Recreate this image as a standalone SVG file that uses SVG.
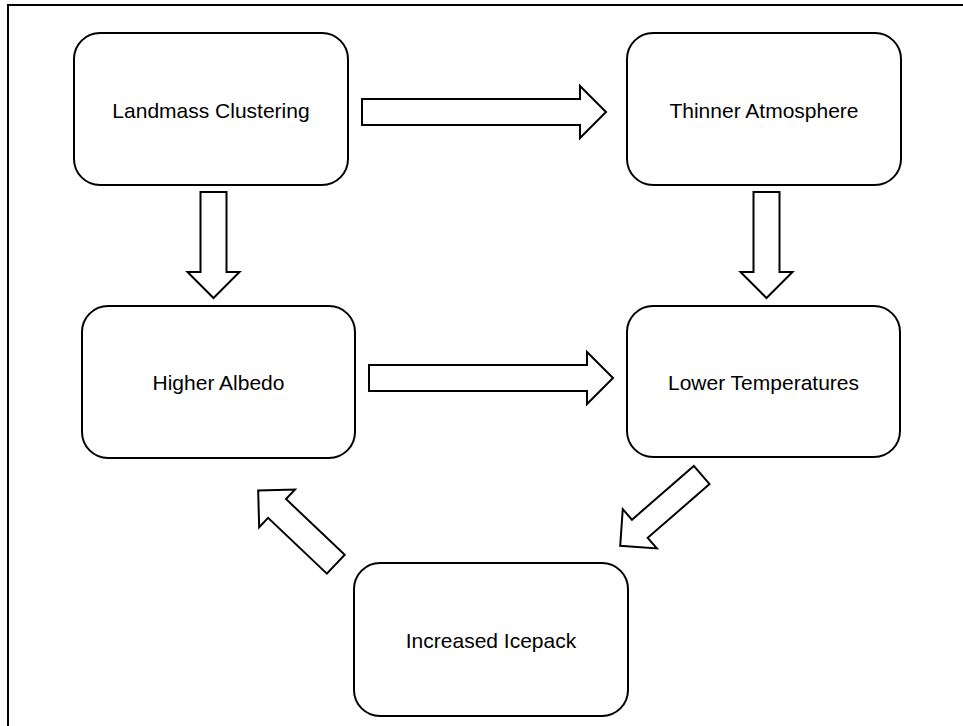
<svg xmlns="http://www.w3.org/2000/svg" width="963" height="726" viewBox="0 0 963 726">
  <style>
    .box { fill: #ffffff; stroke: #000000; stroke-width: 2; }
    .lbl { font-family: "Liberation Sans", Arial, sans-serif; font-size: 21px; fill: #000000; text-anchor: middle; }
    .arr { fill: #ffffff; stroke: #000000; stroke-width: 2; stroke-linejoin: miter; }
    .frame { fill: none; stroke: #000000; stroke-width: 2; }
  </style>
  <defs>
    <polygon id="arrowShape" points="0,-13 -26,-13 -26,-26 0,0 -26,26 -26,13 0,13"/>
  </defs>
  <rect x="0" y="0" width="963" height="726" fill="#ffffff"/>
  <rect class="frame" x="8" y="5" width="1000" height="800"/>

  <g id="connectors">
    <polygon class="arr" points="362,99 580,99 580,86 606,112 580,138 580,125 362,125"/>
    <polygon class="arr" points="369,365 587,365 587,352 613,378 587,404 587,391 369,391"/>
    <polygon class="arr" points="200.5,192 226.5,192 226.5,272 239.5,272 213.5,298 187.5,272 200.5,272"/>
    <polygon class="arr" points="753.5,192 779.5,192 779.5,272 792.5,272 766.5,298 740.5,272 753.5,272"/>
    <g transform="translate(701.7,475) rotate(139)">
      <polygon class="arr" points="0,-12 82,-12 82,-26 108,0 82,26 82,12 0,12"/>
    </g>
    <g transform="translate(335.8,564.2) rotate(-136.5)">
      <polygon class="arr" points="0,-13 81,-13 81,-26 107,0 81,26 81,13 0,13"/>
    </g>
  </g>

  <g id="node-landmass">
    <rect class="box" x="74" y="33" width="274" height="152" rx="26" ry="26"/>
    <text class="lbl" x="211" y="118">Landmass Clustering</text>
  </g>
  <g id="node-thinner">
    <rect class="box" x="627" y="33" width="274" height="152" rx="26" ry="26"/>
    <text class="lbl" x="764" y="118">Thinner Atmosphere</text>
  </g>
  <g id="node-albedo">
    <rect class="box" x="82" y="306" width="273" height="152" rx="26" ry="26"/>
    <text class="lbl" x="218.5" y="390">Higher Albedo</text>
  </g>
  <g id="node-lowertemp">
    <rect class="box" x="627" y="306" width="273" height="151" rx="26" ry="26"/>
    <text class="lbl" x="763.5" y="389.5">Lower Temperatures</text>
  </g>
  <g id="node-icepack">
    <rect class="box" x="354" y="563" width="274" height="153" rx="26" ry="26"/>
    <text class="lbl" x="491" y="648">Increased Icepack</text>
  </g>
</svg>
